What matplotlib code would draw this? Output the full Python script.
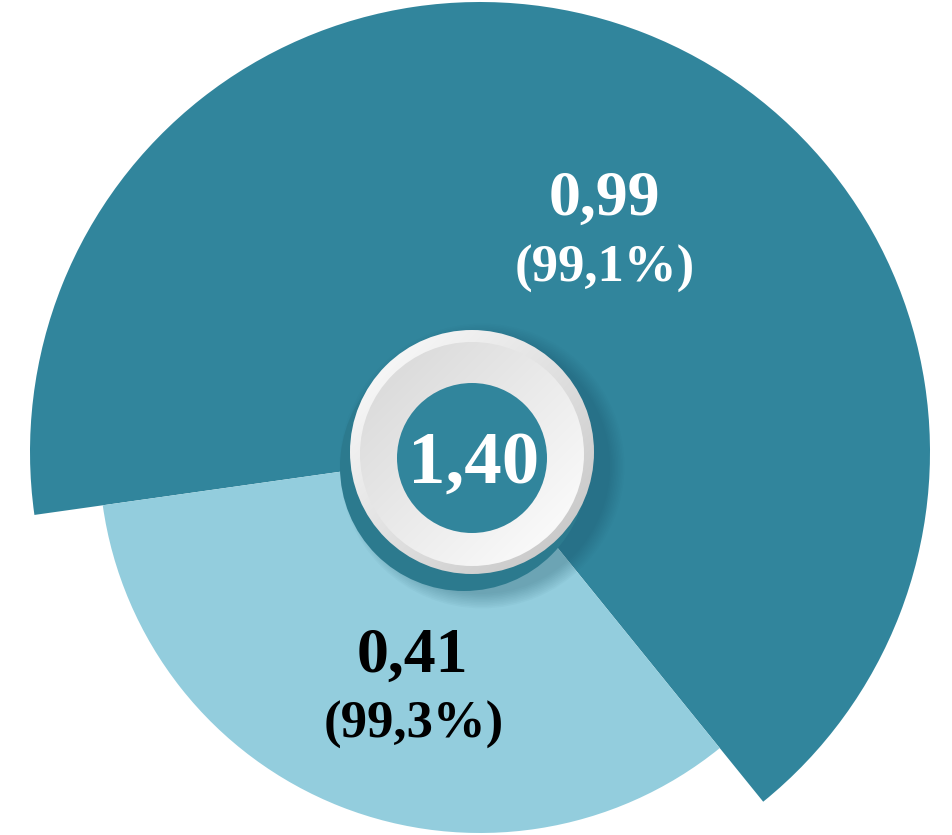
import numpy as np
import matplotlib
matplotlib.use("Agg")
from matplotlib import pyplot as plt
from matplotlib.patches import Circle

# Data
values = [0.99, 0.41]
value_labels = ["0,99", "0,41"]
pct_labels = ["(99,1%)", "(99,3%)"]
total_label = "1,40"
# slice shares as drawn in the picture (degrees of the circle, in %)
shares = [66.4, 33.6]

dark = "#31859C"
light = "#93CDDD"

W, H = 952, 835
fig = plt.figure(figsize=(W / 100, H / 100), dpi=100)
ax = fig.add_axes([0, 0, 1, 1])

cx, cy = 480, H - 452

# big dark slice
wedges, _ = ax.pie(shares, radius=450, center=(cx, cy), startangle=-51,
                   colors=[dark, light], wedgeprops=dict(linewidth=0), frame=True)
wedges[1].set_visible(False)
# smaller light slice
wedges, _ = ax.pie(shares, radius=381, center=(cx, cy), startangle=-51,
                   colors=[dark, light], wedgeprops=dict(linewidth=0), frame=True)
wedges[0].set_visible(False)

# shadow under the ring
rx, ry = 472, H - 452
for i in range(10):
    ax.add_patch(Circle((rx + 10, ry - 14), 128 + i * 1.6, color="#1d5565",
                        alpha=0.035, lw=0, zorder=3))
ax.add_patch(Circle((rx - 8, ry - 15), 124, color="#2c7a8e", lw=0, zorder=3))


def gradient_disk(x0, y0, r, c1, c2, z):
    n = 200
    xs = np.linspace(-1, 1, n)
    X, Y = np.meshgrid(xs, xs)
    t = (X - Y) / 2.0
    t = np.clip((t + 1) / 2.0, 0, 1)
    c1 = np.array(matplotlib.colors.to_rgb(c1))
    c2 = np.array(matplotlib.colors.to_rgb(c2))
    img = c1[None, None, :] * (1 - t[..., None]) + c2[None, None, :] * t[..., None]
    im = ax.imshow(img, extent=(x0 - r, x0 + r, y0 - r, y0 + r), origin="lower",
                   zorder=z, interpolation="bilinear")
    clip = Circle((x0, y0), r, transform=ax.transData, fc="none", lw=0)
    ax.add_patch(clip)
    im.set_clip_path(clip)


# white ring with bevel
gradient_disk(rx, ry, 122, "#ffffff", "#c2c2c2", 4)
gradient_disk(rx, ry - 2, 112, "#d6d6d6", "#ffffff", 5)
ax.add_patch(Circle((rx, ry - 6), 75, color=dark, lw=0, zorder=6))

serif = "Liberation Serif"
ax.text(474, H - 483, total_label, color="white", fontsize=54, fontweight="bold",
        family=serif, ha="center", va="baseline", zorder=7)

ax.text(604, H - 215, value_labels[0], color="white", fontsize=46, fontweight="bold",
        family=serif, ha="center", va="baseline", zorder=7)
ax.text(605, H - 282, pct_labels[0], color="white", fontsize=38, fontweight="bold",
        family=serif, ha="center", va="baseline", zorder=7)
ax.text(412, H - 672, value_labels[1], color="black", fontsize=46, fontweight="bold",
        family=serif, ha="center", va="baseline", zorder=7)
ax.text(414, H - 738, pct_labels[1], color="black", fontsize=38, fontweight="bold",
        family=serif, ha="center", va="baseline", zorder=7)

ax.set_xlim(0, W)
ax.set_ylim(0, H)
ax.set_aspect("auto")
ax.axis("off")

plt.savefig("out.png", dpi=100)
